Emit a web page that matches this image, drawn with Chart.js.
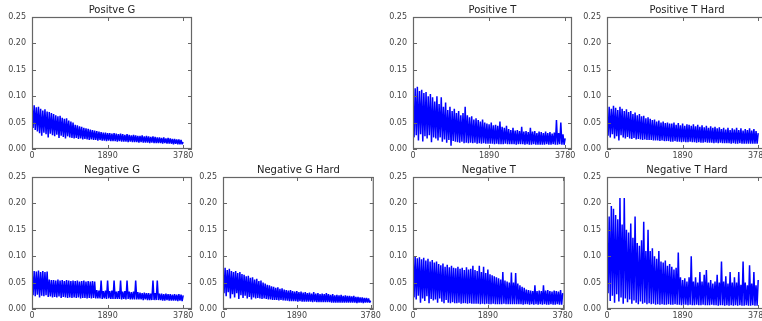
<!DOCTYPE html>
<html>
<head>
<meta charset="utf-8">
<script src="https://cdn.jsdelivr.net/npm/chart.js@4/dist/chart.umd.min.js"></script>
<style>
  html, body { margin: 0; padding: 0; background: #fff; overflow: hidden; }
  body { width: 762px; height: 321px; position: relative; }
  canvas { position: absolute; }
</style>
</head>
<body>
<script>
// sampled iteration positions (every 27 iterations)
var iterations = [0,27,54,81,108,135,162,189,216,243,270,297,324,351,378,405,432,459,486,513,
    540,567,594,621,648,675,702,729,756,783,810,837,864,891,918,945,972,999,1026,1053,
    1080,1107,1134,1161,1188,1215,1242,1269,1296,1323,1350,1377,1404,1431,1458,1485,1512,1539,1566,1593,
    1620,1647,1674,1701,1728,1755,1782,1809,1836,1863,1890,1917,1944,1971,1998,2025,2052,2079,2106,2133,
    2160,2187,2214,2241,2268,2295,2322,2349,2376,2403,2430,2457,2484,2511,2538,2565,2592,2619,2646,2673,
    2700,2727,2754,2781,2808,2835,2862,2889,2916,2943,2970,2997,3024,3051,3078,3105,3132,3159,3186,3213,
    3240,3267,3294,3321,3348,3375,3402,3429,3456,3483,3510,3537,3564,3591,3618,3645,3672,3699,3726,3753,
    3780];

var xTicks = [0, 1890, 3780];
var yTicks = [0, 0.05, 0.10, 0.15, 0.20, 0.25];

var positiveG = [
    0.087,0.040,0.083,0.036,0.079,0.033,0.080,0.030,0.076,0.025,0.073,0.031,0.075,0.028,0.071,0.022,0.070,0.029,0.068,0.026,
    0.066,0.024,0.064,0.027,0.062,0.021,0.063,0.025,0.059,0.023,0.057,0.020,0.058,0.024,0.054,0.022,0.052,0.021,0.050,0.020,
    0.046,0.021,0.045,0.019,0.043,0.020,0.042,0.018,0.040,0.019,0.039,0.018,0.038,0.017,0.037,0.018,0.036,0.017,0.035,0.017,
    0.034,0.016,0.033,0.017,0.032,0.016,0.031,0.016,0.031,0.015,0.030,0.016,0.030,0.015,0.029,0.015,0.030,0.015,0.029,0.014,
    0.028,0.015,0.029,0.014,0.028,0.014,0.027,0.014,0.028,0.013,0.027,0.014,0.026,0.013,0.027,0.013,0.026,0.013,0.025,0.012,
    0.025,0.013,0.026,0.012,0.024,0.012,0.025,0.012,0.024,0.011,0.023,0.012,0.024,0.011,0.023,0.011,0.022,0.011,0.022,0.011,
    0.021,0.010,0.022,0.011,0.020,0.010,0.021,0.010,0.020,0.010,0.019,0.009,0.019,0.010,0.018,0.009,0.018,0.009,0.017,0.009,
    0.013];

var positiveT = [
    0.100,0.022,0.115,0.026,0.118,0.016,0.110,0.028,0.112,0.014,0.106,0.024,0.108,0.020,0.100,0.026,0.104,0.013,0.098,0.022,
    0.090,0.020,0.100,0.016,0.085,0.022,0.098,0.014,0.080,0.018,0.088,0.012,0.074,0.017,0.080,0.006,0.072,0.015,0.076,0.014,
    0.068,0.013,0.072,0.012,0.064,0.014,0.068,0.011,0.080,0.012,0.064,0.011,0.060,0.012,0.062,0.011,0.056,0.012,0.058,0.010,
    0.055,0.011,0.052,0.010,0.056,0.011,0.050,0.010,0.048,0.010,0.047,0.010,0.050,0.010,0.045,0.009,0.046,0.010,0.044,0.009,
    0.052,0.009,0.042,0.009,0.040,0.010,0.044,0.009,0.038,0.009,0.036,0.009,0.040,0.009,0.035,0.008,0.036,0.009,0.034,0.009,
    0.042,0.009,0.033,0.008,0.034,0.009,0.032,0.008,0.040,0.008,0.033,0.009,0.034,0.008,0.030,0.008,0.033,0.008,0.032,0.008,
    0.030,0.008,0.033,0.009,0.030,0.008,0.032,0.008,0.029,0.009,0.031,0.008,0.055,0.008,0.030,0.009,0.050,0.008,0.028,0.008,
    0.020];

var positiveTHard = [
    0.070,0.025,0.080,0.022,0.076,0.028,0.082,0.020,0.078,0.024,0.074,0.016,0.080,0.026,0.076,0.022,0.072,0.020,0.075,0.023,
    0.070,0.020,0.072,0.019,0.066,0.021,0.069,0.018,0.064,0.019,0.066,0.018,0.062,0.017,0.063,0.018,0.058,0.017,0.060,0.017,
    0.057,0.017,0.055,0.016,0.056,0.016,0.052,0.016,0.054,0.015,0.050,0.016,0.052,0.015,0.049,0.015,0.050,0.015,0.048,0.014,
    0.048,0.014,0.050,0.015,0.046,0.014,0.049,0.014,0.045,0.013,0.048,0.014,0.044,0.013,0.047,0.013,0.046,0.014,0.044,0.013,
    0.047,0.013,0.043,0.012,0.046,0.013,0.042,0.012,0.045,0.012,0.041,0.013,0.044,0.012,0.040,0.012,0.043,0.012,0.040,0.011,
    0.042,0.012,0.039,0.011,0.041,0.012,0.038,0.011,0.040,0.011,0.037,0.011,0.040,0.011,0.036,0.010,0.039,0.011,0.037,0.010,
    0.040,0.010,0.036,0.011,0.039,0.010,0.035,0.010,0.038,0.010,0.036,0.010,0.039,0.010,0.035,0.010,0.038,0.010,0.034,0.010,
    0.030];

var negativeG = [
    0.075,0.026,0.072,0.024,0.071,0.027,0.073,0.022,0.070,0.025,0.072,0.024,0.070,0.026,0.071,0.023,0.056,0.024,0.055,0.022,
    0.055,0.023,0.054,0.022,0.056,0.024,0.054,0.021,0.055,0.023,0.053,0.022,0.055,0.021,0.054,0.022,0.053,0.021,0.054,0.022,
    0.053,0.021,0.054,0.022,0.052,0.020,0.053,0.021,0.054,0.021,0.052,0.020,0.053,0.021,0.052,0.020,0.053,0.021,0.052,0.020,
    0.036,0.020,0.035,0.020,0.054,0.019,0.034,0.020,0.035,0.019,0.054,0.020,0.034,0.019,0.035,0.019,0.054,0.019,0.033,0.019,
    0.034,0.019,0.054,0.018,0.033,0.019,0.034,0.018,0.054,0.019,0.033,0.018,0.032,0.018,0.033,0.018,0.054,0.018,0.032,0.018,
    0.031,0.018,0.030,0.017,0.031,0.018,0.030,0.017,0.030,0.017,0.029,0.017,0.054,0.017,0.030,0.017,0.054,0.017,0.029,0.017,
    0.029,0.016,0.028,0.016,0.029,0.017,0.028,0.016,0.028,0.016,0.027,0.016,0.028,0.016,0.027,0.015,0.028,0.016,0.027,0.015,
    0.026];

var negativeGHard = [
    0.075,0.030,0.078,0.024,0.074,0.032,0.076,0.020,0.072,0.028,0.070,0.022,0.072,0.030,0.068,0.019,0.070,0.026,0.066,0.021,
    0.065,0.025,0.062,0.020,0.063,0.023,0.059,0.018,0.060,0.022,0.056,0.020,0.057,0.021,0.053,0.020,0.054,0.019,0.050,0.020,
    0.048,0.019,0.046,0.018,0.045,0.018,0.043,0.017,0.042,0.017,0.040,0.017,0.041,0.016,0.038,0.017,0.039,0.016,0.037,0.016,
    0.036,0.016,0.035,0.015,0.036,0.015,0.034,0.015,0.033,0.015,0.034,0.014,0.032,0.015,0.033,0.014,0.031,0.014,0.032,0.014,
    0.030,0.014,0.031,0.014,0.029,0.013,0.032,0.014,0.029,0.013,0.030,0.013,0.028,0.013,0.029,0.013,0.028,0.013,0.030,0.013,
    0.028,0.013,0.027,0.012,0.028,0.012,0.026,0.012,0.027,0.012,0.026,0.012,0.027,0.012,0.025,0.012,0.026,0.012,0.025,0.012,
    0.025,0.012,0.024,0.012,0.025,0.012,0.023,0.011,0.023,0.012,0.022,0.012,0.022,0.011,0.021,0.012,0.021,0.012,0.020,0.012,
    0.016];

var negativeT = [
    0.108,0.022,0.100,0.018,0.096,0.025,0.098,0.012,0.094,0.020,0.097,0.015,0.092,0.024,0.095,0.011,0.090,0.019,0.093,0.016,
    0.088,0.018,0.090,0.012,0.085,0.020,0.083,0.014,0.086,0.011,0.080,0.017,0.084,0.012,0.079,0.011,0.082,0.013,0.078,0.011,
    0.077,0.011,0.080,0.012,0.076,0.010,0.078,0.011,0.074,0.011,0.079,0.010,0.075,0.011,0.076,0.010,0.082,0.010,0.074,0.010,
    0.072,0.010,0.082,0.009,0.070,0.010,0.080,0.009,0.068,0.010,0.075,0.009,0.066,0.009,0.064,0.010,0.062,0.009,0.060,0.009,
    0.058,0.009,0.056,0.009,0.070,0.010,0.054,0.009,0.052,0.009,0.050,0.009,0.069,0.009,0.050,0.009,0.068,0.009,0.048,0.009,
    0.045,0.009,0.042,0.008,0.040,0.009,0.037,0.009,0.036,0.008,0.035,0.009,0.034,0.008,0.045,0.009,0.034,0.008,0.035,0.009,
    0.034,0.008,0.045,0.009,0.035,0.008,0.036,0.008,0.034,0.009,0.033,0.008,0.035,0.008,0.034,0.009,0.033,0.008,0.036,0.008,
    0.030];

var negativeTHard = [
    0.120,0.030,0.175,0.015,0.195,0.025,0.190,0.012,0.178,0.028,0.170,0.014,0.210,0.022,0.160,0.010,0.210,0.020,0.150,0.013,
    0.145,0.018,0.162,0.010,0.135,0.016,0.175,0.012,0.125,0.009,0.120,0.014,0.130,0.010,0.165,0.012,0.110,0.009,0.150,0.011,
    0.110,0.009,0.115,0.010,0.100,0.008,0.095,0.009,0.110,0.008,0.090,0.009,0.088,0.008,0.092,0.008,0.082,0.009,0.085,0.008,
    0.080,0.008,0.075,0.009,0.078,0.008,0.107,0.008,0.060,0.007,0.055,0.008,0.058,0.008,0.052,0.007,0.060,0.008,0.100,0.007,
    0.052,0.007,0.060,0.008,0.050,0.007,0.070,0.007,0.052,0.008,0.065,0.007,0.074,0.007,0.050,0.007,0.055,0.008,0.048,0.007,
    0.052,0.007,0.065,0.006,0.050,0.007,0.090,0.007,0.052,0.006,0.062,0.007,0.048,0.006,0.070,0.007,0.050,0.006,0.060,0.007,
    0.050,0.006,0.070,0.007,0.046,0.006,0.090,0.006,0.050,0.007,0.045,0.006,0.083,0.006,0.048,0.007,0.070,0.006,0.045,0.006,
    0.055];

var panels = [
    { title: 'Positve G',         data: positiveG,     left: 32,  top: 17,  width: 160, xMax: 4000 },
    { title: 'Positive T',        data: positiveT,     left: 413, top: 17,  width: 159, xMax: 3950 },
    { title: 'Positive T Hard',   data: positiveTHard, left: 607, top: 17,  width: 160, xMax: 4000 },
    { title: 'Negative G',        data: negativeG,     left: 32,  top: 177, width: 160, xMax: 4000 },
    { title: 'Negative G Hard',   data: negativeGHard, left: 223, top: 177, width: 152, xMax: 3860 },
    { title: 'Negative T',        data: negativeT,     left: 413, top: 177, width: 154, xMax: 3830 },
    { title: 'Negative T Hard',   data: negativeTHard, left: 607, top: 177, width: 160, xMax: 4000 }
];

var AXIS_W = 32, TOP_PAD = 17, PLOT_H = 132, X_AXIS_H = 14, RIGHT_PAD = 8;

// box, inward ticks on all four sides, title
var framePlugin = {
    id: 'frame',
    afterDraw: function (chart) {
        var ctx = chart.ctx, a = chart.chartArea;
        var sx = chart.scales.x, sy = chart.scales.y;
        ctx.save();
        ctx.strokeStyle = '#666';
        ctx.lineWidth = 1.2;
        ctx.strokeRect(a.left + 0.5, a.top + 0.5, a.right - a.left - 1, a.bottom - a.top - 1);
        ctx.beginPath();
        ctx.lineWidth = 1;
        xTicks.forEach(function (v) {
            var px = Math.round(sx.getPixelForValue(v)) + 0.5;
            ctx.moveTo(px, a.bottom); ctx.lineTo(px, a.bottom - 4);
            ctx.moveTo(px, a.top); ctx.lineTo(px, a.top + 4);
        });
        yTicks.forEach(function (v) {
            var py = Math.round(sy.getPixelForValue(v)) + 0.5;
            ctx.moveTo(a.left, py); ctx.lineTo(a.left + 4, py);
            ctx.moveTo(a.right, py); ctx.lineTo(a.right - 4, py);
        });
        ctx.stroke();
        ctx.fillStyle = '#222';
        ctx.font = '10px "DejaVu Sans"';
        ctx.textAlign = 'center';
        ctx.textBaseline = 'alphabetic';
        ctx.fillText(chart.options.plugins.frame.title, (a.left + a.right) / 2, a.top - 4);
        ctx.restore();
    }
};

panels.forEach(function (p) {
    var canvas = document.createElement('canvas');
    var w = AXIS_W + p.width + RIGHT_PAD;
    var h = TOP_PAD + PLOT_H + X_AXIS_H;
    canvas.width = w;
    canvas.height = h;
    canvas.style.width = w + 'px';
    canvas.style.height = h + 'px';
    canvas.style.left = (p.left - AXIS_W) + 'px';
    canvas.style.top = (p.top - TOP_PAD) + 'px';
    document.body.appendChild(canvas);

    var points = iterations.map(function (it, i) { return { x: it, y: p.data[i] }; });

    new Chart(canvas.getContext('2d'), {
        type: 'line',
        data: {
            datasets: [{
                data: points,
                borderColor: '#0000ff',
                borderWidth: 1.5,
                borderJoinStyle: 'bevel',
                pointRadius: 0,
                tension: 0,
                fill: false
            }]
        },
        plugins: [framePlugin],
        options: {
            responsive: false,
            animation: false,
            events: [],
            layout: {
                autoPadding: false,
                padding: { top: TOP_PAD, right: RIGHT_PAD, left: 0, bottom: 0 }
            },
            scales: {
                x: {
                    type: 'linear',
                    min: 0,
                    max: p.xMax,
                    grid: { display: false, drawTicks: false },
                    border: { display: false },
                    afterBuildTicks: function (scale) {
                        scale.ticks = xTicks.map(function (v) { return { value: v }; });
                    },
                    afterFit: function (scale) { scale.height = X_AXIS_H; },
                    ticks: {
                        padding: 2,
                        maxRotation: 0,
                        autoSkip: false,
                        color: '#444',
                        font: { family: 'DejaVu Sans', size: 8 },
                        callback: function (v) { return String(v); }
                    }
                },
                y: {
                    min: 0,
                    max: 0.25,
                    grid: { display: false, drawTicks: false },
                    border: { display: false },
                    afterBuildTicks: function (scale) {
                        scale.ticks = yTicks.map(function (v) { return { value: v }; });
                    },
                    afterFit: function (scale) { scale.width = AXIS_W; },
                    ticks: {
                        padding: 6,
                        autoSkip: false,
                        color: '#444',
                        font: { family: 'DejaVu Sans', size: 8 },
                        callback: function (v) { return v.toFixed(2); }
                    }
                }
            },
            plugins: {
                legend: { display: false },
                tooltip: { enabled: false },
                title: { display: false },
                frame: { title: p.title }
            }
        }
    });
});
</script>
</body>
</html>
